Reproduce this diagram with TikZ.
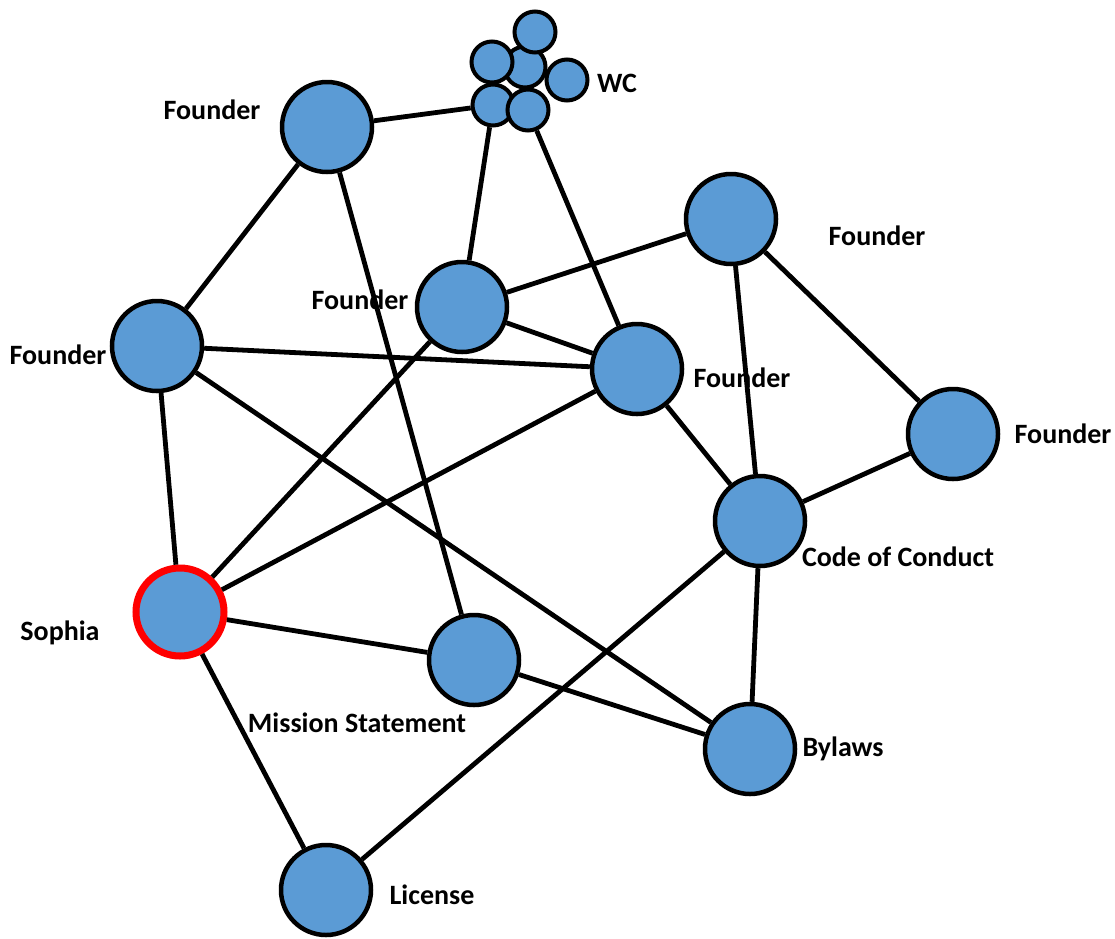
\documentclass[tikz,border=0pt]{standalone}
\usepackage{fontspec}
\setmainfont{Carlito}
\usepackage{tikz}

\definecolor{nodeblue}{HTML}{5B9BD5}
\definecolor{hired}{HTML}{FF0000}

\tikzset{
  member/.style={circle, draw=black, line width=4.5pt, fill=nodeblue, minimum size=90pt, inner sep=0pt},
  wcmember/.style={circle, draw=black, line width=4pt, fill=nodeblue, minimum size=41pt, inner sep=0pt},
  tag/.style={font=\fontsize{28}{32}\selectfont\bfseries},
  link/.style={line width=4.8pt}
}

\begin{document}
\begin{tikzpicture}[x=1pt,y=-1pt]
                \useasboundingbox (0,0) rectangle (1115,938);
                % Draw the WC group
                \node[wcmember] (w3) at (525,67) {};
                \node[wcmember] (w1) at (535,32) {};
                \node[wcmember] (w2) at (492,62) {};
                \node[wcmember] (w4) at (567,80) {};
                \node[wcmember] (w5) at (493,105) {};
                \node[wcmember] (w6) at (528,110) {};
                % Draw the members
                \node[member] (f1) at (327,127) {};
                \node[member] (f2) at (157,346) {};
                \node[member] (f3) at (462,307) {};
                \node[member] (f4) at (731,219) {};
                \node[member] (f5) at (637,369) {};
                \node[member] (f6) at (953,434) {};
                \node[member] (coc) at (760,521) {};
                \node[member, draw=hired, line width=7pt, minimum size=88pt] (sophia) at (180,612) {};
                \node[member] (mission) at (474,660) {};
                \node[member] (bylaws) at (750,749) {};
                \node[member] (license) at (326,890) {};
                % Draw the links
                \foreach \a/\b in {f1/w5, f1/mission, f1/f2, f3/w5, f5/w6, f2/f5, f2/sophia, f2/bylaws,
                                   f3/f4, f3/f5, f3/sophia, f5/sophia, f5/coc, f4/coc, f4/f6, f6/coc,
                                   coc/bylaws, coc/license, sophia/mission, sophia/license, mission/bylaws}{
                    \draw[link] (\a) -- (\b);
                }
                % Labels
                \node[tag] (lf1) at (212,110) {Founder};
                \node[tag] (lf2) at (58,355) {Founder};
                \node[tag] (lf3) at (360,300) {Founder};
                \node[tag] (lf4) at (877,236) {Founder};
                \node[tag] (lf5) at (742,378) {Founder};
                \node[tag] (lf6) at (1063,434) {Founder};
                \node[tag] (lwc) at (617,83) {WC};
                \node[tag] (lcoc) at (898,557) {Code of Conduct};
                \node[tag] (lsophia) at (60,633) {Sophia};
                \node[tag] (lmission) at (357,723) {Mission Statement};
                \node[tag] (lbylaws) at (843,749) {Bylaws};
                \node[tag] (llicense) at (432,895) {License};
            \end{tikzpicture}
\end{document}
